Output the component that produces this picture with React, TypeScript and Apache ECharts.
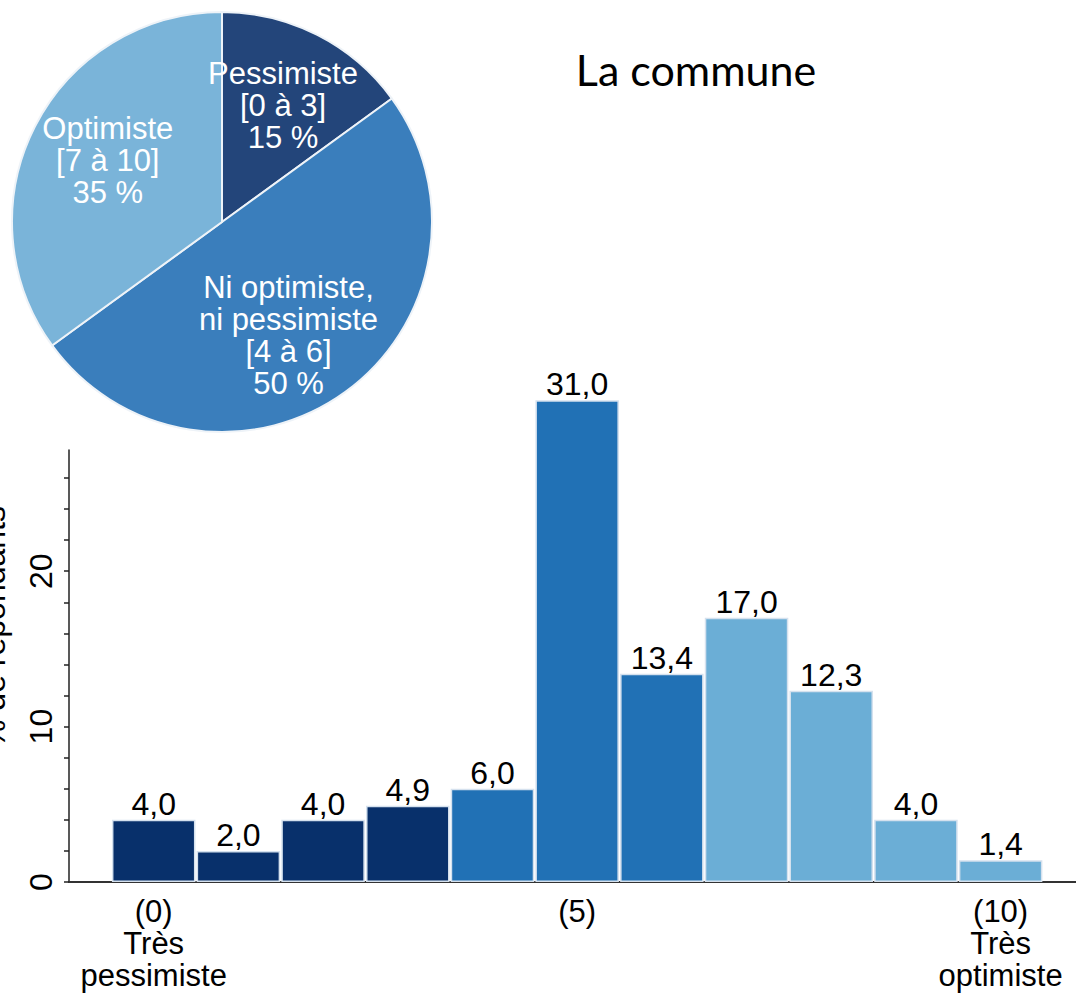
import React, { useEffect, useRef } from "react";
import * as echarts from "echarts";

// ---- Data ----
const titleText = "La commune";
const yAxisTitle = "% de répondants";

const scoreCategories = [0, 1, 2, 3, 4, 5, 6, 7, 8, 9, 10];
const scoreValues = [4.0, 2.0, 4.0, 4.9, 6.0, 31.0, 13.4, 17.0, 12.3, 4.0, 1.4];
const scoreGroup = [0, 0, 0, 0, 1, 1, 1, 2, 2, 2, 2];
const xTickLabels = ["(0)\nTrès\npessimiste", "", "", "", "", "(5)", "", "", "", "", "(10)\nTrès\noptimiste"];
const xLabelValues = [0, 5, 10];
const yTickValues = [0, 2, 4, 6, 8, 10, 12, 14, 16, 18, 20, 22, 24, 26];
const yLabelValues = [0, 10, 20];

const pieNames = ["Pessimiste", "Ni optimiste,\nni pessimiste", "Optimiste"];
const pieRanges = ["[0 à 3]", "[4 à 6]", "[7 à 10]"];
const pieValues = [15, 50, 35];

// ---- Styles ----
const barColors = ["#08306b", "#2171b5", "#6baed6"];
const pieColors = ["#23457a", "#3a7ebc", "#7ab4d9"];
const pieLabelOffsets = [
  [12, -20],
  [3, 26],
  [-18, -12],
];
const ARIAL = "Liberation Sans";

export default function App() {
  const ref = useRef<HTMLDivElement>(null);

  useEffect(() => {
    if (!ref.current) return;
    const chart = echarts.init(ref.current, undefined, { renderer: "svg" });
    chart.setOption({
      animation: false,
      backgroundColor: "#ffffff",
      title: {
        text: titleText,
        left: 696,
        top: 48,
        textAlign: "center",
        padding: 0,
        textStyle: {
          fontFamily: "Lato",
          fontSize: 43,
          fontWeight: "normal",
          color: "#000",
          lineHeight: 43,
        },
      },
      graphic: [
        {
          type: "text",
          x: -6,
          y: 627,
          rotation: Math.PI / 2,
          style: {
            text: yAxisTitle,
            fontFamily: ARIAL,
            fontSize: 32,
            fill: "#000",
            align: "center",
            verticalAlign: "middle",
          },
        },
      ],
      grid: {
        left: 69,
        right: 0,
        top: 450,
        bottom: 111,
        containLabel: false,
      },
      xAxis: {
        type: "value",
        min: -1,
        max: 10.89,
        axisLine: { show: true, onZero: false, lineStyle: { color: "#333", width: 2 } },
        axisTick: { show: false },
        splitLine: { show: false },
        axisLabel: {
          customValues: xLabelValues,
          formatter: (v: number) => xTickLabels[scoreCategories.indexOf(Math.round(v))] ?? "",
          fontFamily: ARIAL,
          fontSize: 31,
          lineHeight: 32,
          color: "#000",
          margin: 13,
        },
      },
      yAxis: {
        type: "value",
        min: 0,
        max: 27.8,
        axisLine: { show: true, onZero: false, lineStyle: { color: "#222", width: 1.5 } },
        axisTick: {
          show: true,
          customValues: yTickValues,
          length: 5,
          lineStyle: { color: "#222", width: 1.5 },
        },
        splitLine: { show: false },
        axisLabel: {
          customValues: yLabelValues,
          rotate: 90,
          fontFamily: ARIAL,
          fontSize: 32,
          color: "#000",
          margin: 12,
        },
      },
      series: [
        {
          type: "bar",
          clip: false,
          barWidth: 83.5,
          data: scoreCategories.map((c, i) => ({
            value: [c, scoreValues[i]],
            itemStyle: { color: barColors[scoreGroup[i]] },
          })),
          itemStyle: { borderColor: "#d5e1ee", borderWidth: 1.5 },
          label: {
            show: true,
            position: "top",
            distance: 0,
            fontFamily: ARIAL,
            fontSize: 32,
            color: "#000",
            formatter: (p: any) => p.value[1].toFixed(1).replace(".", ","),
          },
        },
        {
          type: "pie",
          center: [222, 222],
          radius: 210,
          startAngle: 90,
          clockwise: true,
          itemStyle: { borderColor: "#eef3f8", borderWidth: 2 },
          label: {
            show: true,
            position: "inside",
            fontFamily: ARIAL,
            fontSize: 31,
            lineHeight: 32,
            color: "#fff",
            align: "center",
          },
          labelLine: { show: false },
          data: pieNames.map((n, i) => ({
            name: n,
            value: pieValues[i],
            itemStyle: { color: pieColors[i] },
            label: {
              formatter: `${n}\n${pieRanges[i]}\n${pieValues[i]} %`,
              offset: pieLabelOffsets[i],
            },
          })),
        },
      ],
    });
    return () => chart.dispose();
  }, []);

  return (
    <div
      ref={ref}
      style={{ position: "fixed", left: 0, top: 0, width: 1076, height: 993, background: "#fff" }}
    />
  );
}
